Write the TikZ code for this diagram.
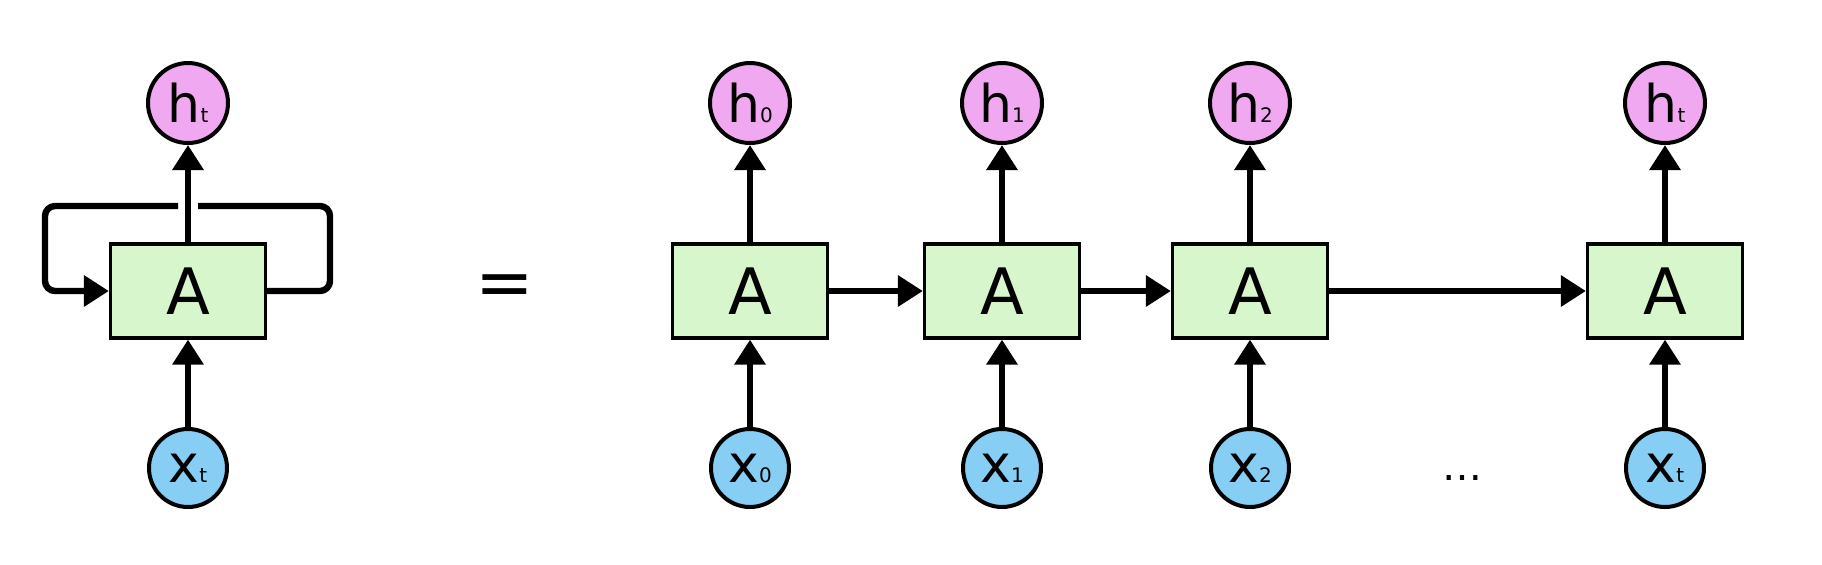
\documentclass[tikz,border=0pt]{standalone}
\usepackage{fontspec}
\setmainfont{DejaVu Sans}
\usetikzlibrary{arrows.meta}
\definecolor{hpink}{RGB}{240,168,240}
\definecolor{xblue}{RGB}{135,206,245}
\definecolor{agreen}{RGB}{216,246,204}
\newcommand\mysubs[1]{{\fontsize{10}{10}\selectfont #1}}
\begin{document}
\begin{tikzpicture}[x=0.5pt,y=-0.5pt,
  cell/.style={draw=black, line width=1.6pt, fill=agreen, minimum width=77.5pt, minimum height=47pt, inner sep=0pt, font=\fontsize{32}{32}\selectfont},
  hnode/.style={circle, draw=black, line width=2pt, fill=hpink, minimum size=40pt, inner sep=0pt, font=\fontsize{26}{26}\selectfont},
  xnode/.style={circle, draw=black, line width=2pt, fill=xblue, minimum size=39pt, inner sep=0pt, font=\fontsize{26}{26}\selectfont},
  arr/.style={line width=3.2pt, -{Triangle[width=15pt,length=12.5pt]}},
  ln/.style={line width=3.2pt}]
\useasboundingbox (0,0) rectangle (1822,564);
% folded
\node[cell] (A) at (188,291) {A};
\node[hnode] (ht) at (188,103) {h\mysubs{t}};
\node[xnode] (xt) at (188,468) {x\mysubs{t}};
\draw[arr] (xt) -- (A);
\draw[arr] (A) -- (ht);
\coordinate (gl) at (178,206);
\coordinate (gr) at (198,206);
\draw[ln, rounded corners=5pt] (A.east) -- (330,291) -- (330,206) -- (gr);
\draw[arr, rounded corners=5pt] (gl) -- (45,206) -- (45,291) -- (A.west);
% equals
\node[font=\fontsize{35}{35}\selectfont] (eq) at (505,291) {=};
% unrolled
\foreach \n/\x/\s in {0/750/0, 1/1002/1, 2/1250/2, t/1665/t} {
  \node[cell] (A\n) at (\x,291) {A};
  \node[hnode] (h\n) at (\x,103) {h\mysubs{\s}};
  \node[xnode] (x\n) at (\x,468) {x\mysubs{\s}};
  \draw[arr] (x\n) -- (A\n);
  \draw[arr] (A\n) -- (h\n);
}
\draw[arr] (A0) -- (A1);
\draw[arr] (A1) -- (A2);
\draw[arr] (A2) -- (At);
\node[font=\fontsize{20}{20}\selectfont] (dots) at (1462,478) {…};
\end{tikzpicture}
\end{document}
